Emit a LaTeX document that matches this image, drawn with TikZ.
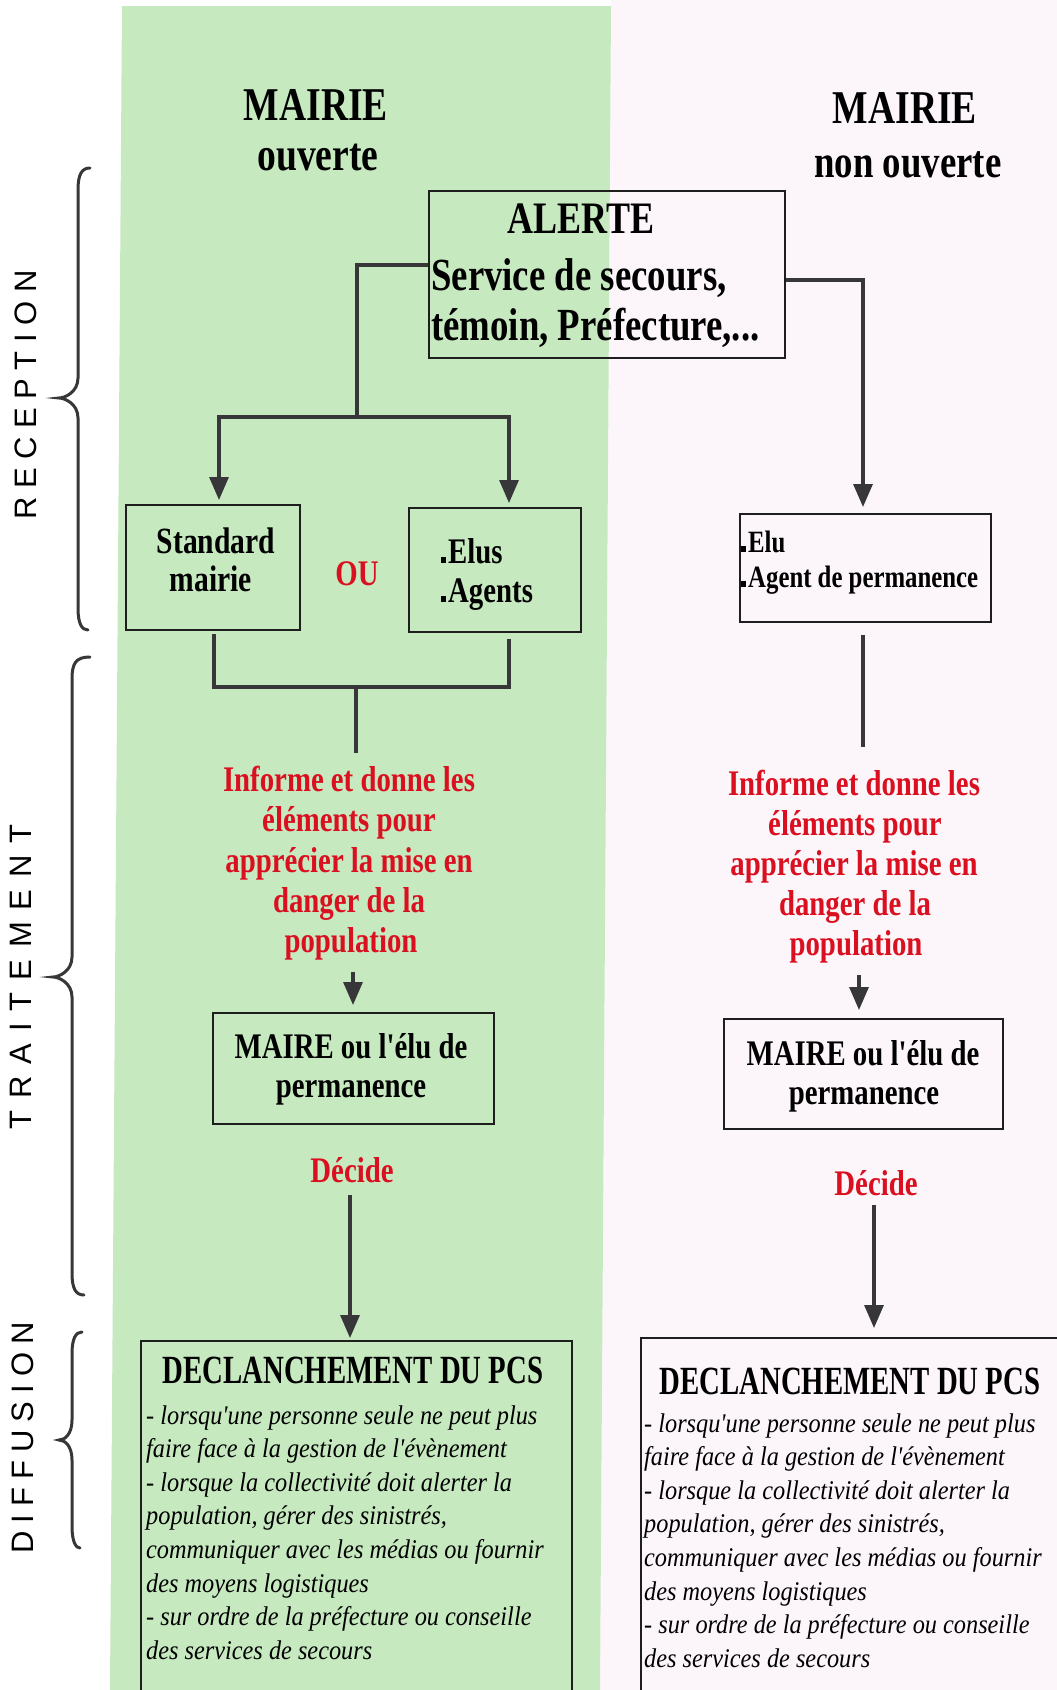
\documentclass[tikz,border=0pt]{standalone}
\usepackage{fontspec}
\setmainfont{Liberation Serif}
\newfontfamily\cond[FakeStretch=0.8]{Liberation Serif}
\newfontfamily\condh[FakeStretch=0.72]{Liberation Serif}
\newfontfamily\itf[FakeStretch=0.9]{Liberation Serif}
\newfontfamily\labf{Liberation Sans}
\usetikzlibrary{arrows.meta}
\definecolor{bgreen}{RGB}{198,233,192}
\definecolor{bpink}{RGB}{252,246,250}
\definecolor{tred}{RGB}{218,16,32}
\definecolor{boxc}{RGB}{30,30,30}
\definecolor{connc}{RGB}{55,55,58}
\newcommand\myfs[1]{\fontsize{#1}{#1}\selectfont}
\newcommand\sqb{\rule{5pt}{6pt}\kern2pt}
\newcommand\mybrace[7]{%
  \draw[brc] (#1,#2) .. controls (#3+4,#2) and (#3,#2+6) .. (#3,#2+22)
    -- (#3,#5-20) .. controls (#3,#5-6) and (#4+6,#5) .. (#4,#5)
    .. controls (#4+6,#5) and (#3,#5+6) .. (#3,#5+20)
    -- (#3,#7-22) .. controls (#3,#7-6) and (#3+4,#7) .. (#6,#7);}
\begin{document}
\begin{tikzpicture}[x=1pt,y=-1pt,
  bx/.style={draw=boxc, line width=2.4pt, anchor=north west, inner sep=0pt},
  tb/.style={inner sep=0pt, anchor=base, font=\cond\bfseries\myfs{36}},
  tbw/.style={tb, anchor=base west},
  rt/.style={tb, text=tred},
  it/.style={inner sep=0pt, anchor=base west, font=\itf\itshape\myfs{27}},
  lab/.style={inner sep=0pt, rotate=90, font=\labf\myfs{31}},
  conn/.style={draw=connc, line width=3.2pt},
  barst/.style={draw=connc, line width=4.5pt, line cap=rect},
  arr/.style={draw=connc, line width=3.2pt, -{Triangle[width=19pt,length=23pt]}},
  brc/.style={draw=connc, line width=3pt, line cap=round}]
\useasboundingbox (0,0) rectangle (1057,1690);
\clip (0,0) rectangle (1057,1690);
% backgrounds
\fill[white] (0,0) rectangle (1057,1690);
\fill[bpink] (611,0) -- (1057,0) -- (1057,1690) -- (600,1690) -- cycle;
\fill[bgreen] (122,6) -- (611,6) -- (600,1690) -- (110,1690) -- cycle;

% side labels and braces
\node[lab] (recep) at (26,395) {\spaceskip=8.6pt\relax R E C E P T I O N};
\node[lab] (trait) at (21,977) {\spaceskip=11.9pt\relax T R A I T E M E N T};
\node[lab] (diffu) at (23,1438) {\spaceskip=8pt\relax D I F F U S I O N};
\mybrace{90}{168}{78}{59}{398}{88}{630}
\mybrace{90}{657}{72}{53}{977}{84}{1295}
\mybrace{82}{1332}{72}{59}{1440}{80}{1548}

% titles
\node[tb, font=\cond\bfseries\myfs{47}] (t1) at (316,120) {MAIRIE};
\node[tb, font=\cond\bfseries\myfs{47}] (t2) at (318,170) {ouverte};
\node[tb, font=\cond\bfseries\myfs{47}] (t3) at (905,123) {MAIRIE};
\node[tb, font=\cond\bfseries\myfs{46}] (t4) at (908,177) {non ouverte};

% ALERTE
\node[bx, minimum width=356pt, minimum height=167pt] (alerte) at (428,190) {};
\node[tb, font=\cond\bfseries\myfs{45}] (al1) at (581,233) {ALERTE};
\node[tbw, font=\cond\bfseries\myfs{46}] (al2) at (431,290) {Service de secours,};
\node[tbw, font=\cond\bfseries\myfs{46}] (al3) at (431,340) {témoin, Préfecture,...};

% reception boxes
\node[bx, minimum width=174pt, minimum height=125pt] (std) at (125,504) {};
\node[tb, font=\cond\bfseries\myfs{37}] (std1) at (216,553) {Standard};
\node[tb, font=\cond\bfseries\myfs{37}] (std2) at (211,591) {mairie};
\node[rt] (ou) at (357,585) {OU};
\node[bx, minimum width=172pt, minimum height=124pt] (elus) at (408,507) {};
\node[tbw] (el1) at (441,563) {\sqb Elus};
\node[tbw] (el2) at (441,602) {\sqb Agents};
\node[bx, minimum width=251pt, minimum height=108pt] (eluR) at (739,513) {};
\node[tbw, font=\cond\bfseries\myfs{31}] (er1) at (741,552) {\sqb Elu};
\node[tbw, font=\cond\bfseries\myfs{31}] (er2) at (741,587) {\sqb Agent de permanence};

% red texts
\node[rt] (iL1) at (349,791) {Informe et donne les};
\node[rt] (iL2) at (349,831) {éléments pour};
\node[rt] (iL3) at (349,872) {apprécier la mise en};
\node[rt] (iL4) at (349,912) {danger de la};
\node[rt] (iL5) at (351,952) {population};
\node[rt] (iR1) at (854,795) {Informe et donne les};
\node[rt] (iR2) at (855,835) {éléments pour};
\node[rt] (iR3) at (854,875) {apprécier la mise en};
\node[rt] (iR4) at (855,915) {danger de la};
\node[rt] (iR5) at (856,955) {population};

% maire boxes
\node[bx, minimum width=281pt, minimum height=111pt] (maireL) at (212,1012) {};
\node[tb] (mL1) at (351,1058) {MAIRE ou l'élu de};
\node[tb] (mL2) at (351,1097) {permanence};
\node[bx, minimum width=279pt, minimum height=110pt] (maireR) at (723,1018) {};
\node[tb] (mR1) at (863,1065) {MAIRE ou l'élu de};
\node[tb] (mR2) at (864,1104) {permanence};
\node[rt] (decL) at (352,1182) {Décide};
\node[rt] (decR) at (876,1195) {Décide};

% declenchement boxes
\node[bx, minimum width=431pt, minimum height=420pt] (declL) at (140,1340) {};
\node[bx, minimum width=480pt, minimum height=420pt] (declR) at (640,1337) {};
\node[tb, font=\condh\bfseries\myfs{40}] (hL) at (353,1383) {DECLANCHEMENT DU PCS};
\node[tb, font=\condh\bfseries\myfs{40}] (hR) at (850,1394) {DECLANCHEMENT DU PCS};
\foreach \t [count=\i] in {{- lorsqu'une personne seule ne peut plus},
  {faire face à la gestion de l'évènement},
  {- lorsque la collectivité doit alerter la},
  {population, gérer des sinistrés,},
  {communiquer avec les médias ou fournir},
  {des moyens logistiques},
  {- sur ordre de la préfecture ou conseille},
  {des services de secours}}{
  \node[it] (dl\i) at (146,1424+33.6*\i-33.6) {\t};
  \node[it] (dr\i) at (644,1432+33.6*\i-33.6) {\t};
}

% connectors
\coordinate (jT) at (357,265);
\coordinate (jL) at (357,417);
\coordinate (bL) at (219,417);
\coordinate (bR) at (509,417);
\draw[conn] (alerte.west |- jT) -| (jL);
\draw[barst] (bL) -- (bR);
\draw[arr, shorten >=4pt] (bL) -- (bL |- std.north);
\draw[arr, shorten >=4pt] (bR) -- (bR |- elus.north);
\coordinate (cR) at (863,280);
\draw[arr, shorten >=6pt] (alerte.east |- cR) -| (eluR.north -| cR);

\coordinate (mL) at (214,687);
\coordinate (mR) at (509,687);
\coordinate (mC) at (356,687);
\coordinate (mE) at (356,753);
\draw[conn, shorten <=3pt] (std.south -| mL) -- (mL);
\draw[conn, shorten <=6pt] (elus.south -| mR) -- (mR);
\draw[barst] (mL) -- (mR);
\draw[conn] (mC) -- (mE);
\coordinate (rE) at (863,747);
\draw[conn, shorten <=12pt] (eluR.south -| rE) -- (rE);

\coordinate (pL) at (353,972);
\draw[arr, shorten >=7pt] (pL) -- (pL |- maireL.north);
\coordinate (pR) at (859,975);
\draw[arr, shorten >=8pt] (pR) -- (pR |- maireR.north);
\coordinate (dL) at (350,1195);
\draw[arr, shorten >=2pt] (dL) -- (dL |- declL.north);
\coordinate (dR) at (874,1205);
\draw[arr, shorten >=9pt] (dR) -- (dR |- declR.north);
\end{tikzpicture}
\end{document}
